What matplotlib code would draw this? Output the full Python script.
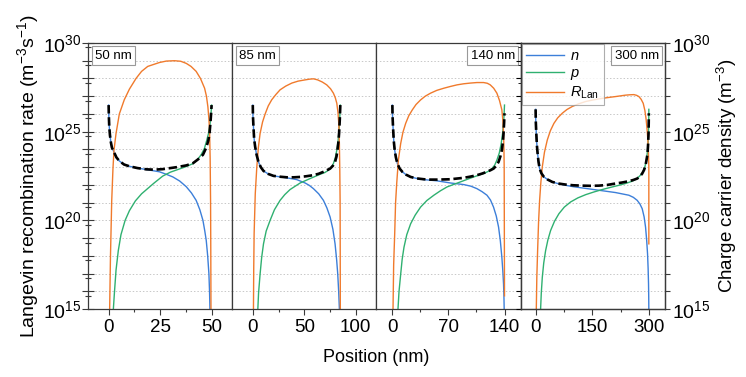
import matplotlib
import numpy as np

matplotlib.use('Agg')
import matplotlib.pyplot as plt
from matplotlib.ticker import FixedLocator, FuncFormatter, MultipleLocator, NullFormatter

plt.rcParams['font.family'] = ['Liberation Sans', 'DejaVu Sans']
plt.rcParams['mathtext.fontset'] = 'custom'
plt.rcParams['mathtext.rm'] = 'Liberation Sans'
plt.rcParams['mathtext.it'] = 'Liberation Sans:italic'

# device thicknesses and panel tags
thickness = [50, 85, 140, 300]
panel_tags = ['50 nm', '85 nm', '140 nm', '300 nm']

# values: position (nm), log10 of density / rate
# --- 50 nm ---
n50_x = [0, 0.1, 0.3, 0.65, 1.1, 1.6, 2.6, 3.8, 5.2, 7.5, 10.1, 14, 18.2, 24.7, 28, 31.2, 34.5, 37.7,
         40.2, 42.5, 44.3, 45.8, 46.7, 47.4, 48.1, 48.7, 49.0, 49.2]
n50_y = [26.5, 25.9, 25.3, 24.8, 24.4, 24.1, 23.85, 23.55, 23.35, 23.15, 23.05, 22.95, 22.87, 22.74, 22.6,
         22.45, 22.22, 21.9, 21.55, 21.13, 20.6, 20.0, 19.4, 18.87, 18.0, 16.98, 16.0, 15.0]
p50_x = [2.3, 2.8, 3.6, 4.7, 6.0, 8, 10.1, 13, 16, 18.2, 22, 26.3, 30, 34.4, 38, 40.9, 43, 44.9, 46.5,
         47.6, 48.5, 49.2, 49.7, 50]
p50_y = [15.0, 15.9, 17.2, 18.3, 19.2, 20.0, 20.55, 21.1, 21.5, 21.72, 22.1, 22.5, 22.72, 22.9, 23.05,
         23.2, 23.4, 23.7, 24.05, 24.5, 24.9, 25.4, 26.0, 26.5]
r50_x = [0.5, 0.9, 1.5, 2.1, 2.6, 3.6, 5.2, 7.6, 10.1, 13.3, 16, 19, 24.7, 28, 32, 35, 37.7, 40, 42.5,
         44.6, 46.6, 47.5, 48.2, 48.7, 49.0, 49.3, 49.5, 49.6, 49.7]
r50_y = [15.0, 18.0, 21.1, 22.9, 23.96, 24.9, 26.0, 26.8, 27.4, 28.0, 28.4, 28.68, 28.9, 28.98, 29.0, 28.97,
         28.85, 28.68, 28.4, 28.0, 27.45, 27.0, 26.4, 25.7, 25.1, 23.5, 21.1, 18.5, 15.0]
t50_x = [0, 0.1, 0.3, 0.65, 1.1, 1.6, 2.6, 3.8, 5.2, 7.5, 10.1, 14, 18.2, 22, 26.3, 30, 33, 37.7, 40.9,
         43.5, 45.8, 47.4, 48.4, 49.0, 49.5, 49.8, 50]
t50_y = [26.5, 25.9, 25.3, 24.8, 24.4, 24.1, 23.85, 23.55, 23.35, 23.15, 23.05, 22.95, 22.88, 22.86, 22.89,
         22.95, 23.0, 23.1, 23.22, 23.45, 23.7, 24.1, 24.5, 24.9, 25.6, 26.1, 26.5]

# --- 85 nm ---
n85_x = [0, 0.15, 0.65, 1.3, 2.3, 3.7, 5.5, 7.8, 10.4, 15, 20.1, 27, 33, 42.7, 50.8, 55, 58.9, 64, 68.6,
         72, 75.1, 77.8, 79.9, 81.4, 82.5, 83.4, 84.1]
n85_y = [26.5, 25.9, 25.28, 24.6, 24.15, 23.7, 23.3, 23.0, 22.79, 22.62, 22.51, 22.45, 22.40, 22.30, 22.11,
         21.97, 21.79, 21.5, 21.13, 20.7, 20.19, 19.5, 18.68, 17.8, 16.98, 16.0, 15.0]
p85_x = [4.9, 5.6, 7.1, 8.6, 10.4, 13, 16.8, 21, 26.5, 31, 36.2, 46, 55.7, 65.4, 70, 73.5, 76.5, 78.3,
         80.2, 81.6, 82.7, 83.5, 84.3, 84.8, 85]
p85_y = [15.0, 15.9, 16.98, 17.9, 18.68, 19.4, 20.0, 20.6, 21.13, 21.45, 21.74, 22.11, 22.36, 22.6, 22.7,
         22.83, 23.0, 23.21, 23.55, 23.96, 24.4, 24.91, 25.6, 26.23, 26.5]
r85_x = [0.65, 0.9, 1.3, 2.4, 3.9, 5.4, 7.1, 9.5, 12, 15, 18.4, 22.5, 26.5, 32, 37.9, 44, 50.8, 55, 58.9,
         63, 67.5, 71.8, 75.5, 78.3, 80.2, 81.6, 82.7, 83.5, 84.1, 84.5, 84.8, 84.9, 85.0]
r85_y = [15.0, 17.2, 19.25, 21.5, 23.0, 24.1, 24.9, 25.55, 26.0, 26.45, 26.8, 27.1, 27.36, 27.57, 27.74,
         27.85, 27.92, 27.96, 27.98, 27.92, 27.8, 27.64, 27.42, 27.17, 26.9, 26.6, 26.1, 25.47, 24.3, 22.8,
         21.1, 18.5, 15.0]
t85_x = [0, 0.15, 0.65, 1.3, 2.3, 3.7, 5.5, 7.8, 10.4, 15, 20.1, 27, 33, 40, 46, 52, 58.9, 64, 68.6, 72,
         75.1, 77.8, 79.9, 81.3, 82.2, 83.1, 83.8, 84.5, 85]
t85_y = [26.5, 25.9, 25.28, 24.6, 24.15, 23.7, 23.3, 23.0, 22.79, 22.62, 22.51, 22.46, 22.43, 22.43, 22.45,
         22.49, 22.55, 22.63, 22.74, 22.83, 22.92, 23.08, 23.3, 23.6, 23.96, 24.4, 24.91, 25.7, 26.5]

# --- 140 nm ---
n140_x = [0, 0.2, 0.8, 1.7, 2.9, 4.4, 6.2, 9, 12.4, 17, 22.8, 30, 39.4, 55.9, 72.5, 89.1, 98, 105.6, 112,
          118.1, 122.5, 126.3, 129.7, 132.6, 134.8, 136.7, 137.9, 138.8, 139.3, 139.6]
n140_y = [26.5, 25.9, 25.28, 24.5, 23.96, 23.55, 23.21, 22.93, 22.74, 22.58, 22.45, 22.37, 22.30, 22.23,
          22.11, 22.02, 21.93, 21.79, 21.62, 21.42, 21.15, 20.75, 20.25, 19.62, 18.85, 17.92, 17.15, 16.42,
          15.7, 15.0]
p140_x = [7.0, 8.3, 10.4, 12.2, 14.5, 18, 22.8, 28.5, 35.2, 43, 51.8, 60, 68.4, 84.9, 101.5, 113.9, 120,
          124.3, 127.8, 130.5, 133.5, 135.9, 137.6, 138.8, 139.5, 140]
p140_y = [15.0, 16.0, 16.98, 17.8, 18.49, 19.2, 19.81, 20.3, 20.75, 21.12, 21.42, 21.67, 21.89, 22.17, 22.45,
          22.64, 22.77, 22.92, 23.12, 23.40, 23.8, 24.34, 24.9, 25.47, 26.0, 26.5]
r140_x = [0.8, 1.6, 2.9, 4, 5.4, 7.5, 10.4, 13.2, 16.6, 20.5, 24.9, 29.5, 35.2, 41, 47.6, 55.5, 64.2, 72.5,
          80.8, 89, 97.3, 105.6, 113.9, 118.5, 122.2, 126.5, 130.5, 133.8, 136.7, 138, 138.8, 139.3, 139.6,
          140.0]
r140_y = [15.0, 17.5, 19.25, 21.0, 22.08, 23.4, 24.34, 24.97, 25.47, 25.9, 26.23, 26.53, 26.79, 27.0, 27.17,
          27.33, 27.45, 27.55, 27.64, 27.7, 27.74, 27.77, 27.77, 27.73, 27.64, 27.45, 27.17, 26.75, 26.23,
          25.6, 24.91, 24.0, 23.0, 15.75]
t140_x = [0, 0.2, 0.8, 1.7, 2.9, 4.4, 6.2, 9, 12.4, 17, 22.8, 30, 39.4, 47.6, 55.9, 64, 72.5, 80.8, 89.1,
          97.5, 105.6, 112, 118.1, 122.5, 126.3, 129.7, 132.6, 134.8, 136.7, 137.9, 138.8, 139.5, 140.0]
t140_y = [26.5, 25.9, 25.28, 24.5, 23.96, 23.55, 23.21, 22.93, 22.74, 22.58, 22.45, 22.37, 22.32, 22.30,
          22.30, 22.31, 22.32, 22.36, 22.40, 22.47, 22.55, 22.64, 22.74, 22.83, 22.92, 23.08, 23.30, 23.6,
          23.96, 24.4, 24.91, 25.5, 26.04]

# --- 300 nm ---
n300_x = [0, 0.4, 1.8, 3.3, 5.3, 7.7, 10.6, 15.5, 22.1, 32, 44.1, 60, 79.4, 100, 123.6, 167.7, 211.8,
          247.1, 259, 269.2, 276.5, 282.4, 287.5, 291.3, 294.2, 296.6, 298.1, 299.2, 299.7, 300.0]
n300_y = [26.26, 25.6, 24.91, 24.25, 23.77, 23.3, 22.92, 22.65, 22.45, 22.3, 22.17, 22.07, 21.98, 21.9,
          21.83, 21.70, 21.57, 21.42, 21.3, 21.13, 20.92, 20.66, 20.2, 19.62, 18.9, 18.11, 17.3, 16.42,
          15.7, 15.0]
p300_x = [13.2, 15, 17.7, 21.5, 26.5, 32.5, 39.7, 50, 61.8, 76, 92.7, 112, 132.4, 154, 176.5, 198, 220.7,
          238, 256, 268, 278, 284.5, 289.5, 293, 295.7, 297.8, 299.2, 299.8, 300.0]
p300_y = [15.0, 15.9, 16.79, 17.6, 18.3, 18.9, 19.43, 19.95, 20.38, 20.75, 21.04, 21.27, 21.45, 21.6, 21.74,
          21.86, 21.98, 22.08, 22.21, 22.35, 22.55, 22.75, 23.02, 23.35, 23.77, 24.3, 24.91, 25.6, 26.26]
r300_x = [1.8, 3.2, 5.3, 7.8, 10.6, 13.9, 17.7, 23.5, 30.9, 39, 48.5, 58.5, 70.6, 83, 97.1, 114, 132.4,
          150, 167.7, 190, 211.8, 238.3, 250, 260.4, 267.5, 273.6, 279.5, 285.1, 289.5, 293.0, 295.5,
          297.4, 299, 300.0, 300.0]
r300_y = [15.0, 16.8, 18.3, 19.9, 21.13, 22.15, 23.02, 23.85, 24.53, 25.05, 25.47, 25.78, 26.04, 26.25,
          26.42, 26.57, 26.70, 26.78, 26.85, 26.92, 26.98, 27.06, 27.08, 27.09, 27.05, 26.98, 26.83, 26.60,
          26.2, 25.66, 25.1, 24.53, 23.8, 23.02, 18.68]
t300_x = [0, 0.4, 1.8, 3.3, 5.3, 7.7, 10.6, 15.5, 22.1, 32, 44.1, 60, 79.4, 100, 123.6, 145, 167.7, 190,
          211.8, 230, 247.1, 259, 269.2, 276.5, 282.4, 287.5, 291.3, 294.2, 296.6, 298.1, 299.2, 299.7, 300.0]
t300_y = [26.26, 25.6, 24.91, 24.25, 23.77, 23.3, 22.92, 22.65, 22.45, 22.3, 22.17, 22.08, 22.02, 21.98,
          21.96, 21.95, 21.96, 22.0, 22.08, 22.14, 22.21, 22.28, 22.36, 22.48, 22.64, 22.85, 23.11, 23.45,
          23.77, 24.3, 24.91, 25.5, 26.04]

n_data = [(n50_x, n50_y), (n85_x, n85_y), (n140_x, n140_y), (n300_x, n300_y)]
p_data = [(p50_x, p50_y), (p85_x, p85_y), (p140_x, p140_y), (p300_x, p300_y)]
r_data = [(r50_x, r50_y), (r85_x, r85_y), (r140_x, r140_y), (r300_x, r300_y)]
t_data = [(t50_x, t50_y), (t85_x, t85_y), (t140_x, t140_y), (t300_x, t300_y)]

x_limits = [(-10, 60), (-20, 120), (-20, 160), (-40, 342)]
x_major = [[0, 25, 50], [0, 50, 100], [0, 70, 140], [0, 150, 300]]
x_minor = [12.5, 25, 35, 75]
tag_right = [False, False, True, True]

c_n = '#3c7fd9'
c_p = '#2fb070'
c_r = '#f07a2c'
frame = '#3a3a3a'


def decade_label(v, pos):
    e = int(round(np.log10(v)))
    return f'$\\mathdefault{{10^{{{e}}}}}$' if e % 5 == 0 else ''


fig, axes = plt.subplots(1, 4, figsize=(7.46, 3.77), dpi=100, sharey=True)
fig.subplots_adjust(left=0.118, right=0.891, top=0.886, bottom=0.180, wspace=0)

decades = [10.0 ** k for k in range(15, 31)]
offset_ticks = [10.0 ** (k - 0.25) for k in range(16, 31)]
for i, ax in enumerate(axes):
    ax.set_yscale('log')
    ax.set_ylim(1e15, 1e30)
    ax.set_xlim(*x_limits[i])
    ax.yaxis.set_major_locator(FixedLocator(decades))
    ax.yaxis.set_minor_locator(FixedLocator(offset_ticks))
    ax.yaxis.set_major_formatter(FuncFormatter(decade_label))
    ax.yaxis.set_minor_formatter(NullFormatter())
    ax.grid(True, axis='y', which='major', linestyle=(0, (1.5, 2)), color='#c8c8c8', linewidth=0.7)
    ax.set_axisbelow(True)

    x, y = n_data[i]
    ax.plot(x, 10 ** np.array(y), color=c_n, lw=1.0, label='$n$')
    x, y = p_data[i]
    ax.plot(x, 10 ** np.array(y), color=c_p, lw=1.0, label='$p$')
    x, y = r_data[i]
    ax.plot(x, 10 ** np.array(y), color=c_r, lw=1.0, label='$R_{\\mathrm{Lan}}$')
    x, y = t_data[i]
    ax.plot(x, 10 ** np.array(y), color='black', lw=1.9, dashes=(3.2, 1.4))

    ax.xaxis.set_major_locator(FixedLocator(x_major[i]))
    ax.xaxis.set_minor_locator(MultipleLocator(x_minor[i]))
    ax.xaxis.set_minor_formatter(NullFormatter())
    ax.tick_params(axis='x', which='major', direction='out', length=4, width=0.8,
                   labelsize=13.5, color=frame, pad=3)
    ax.tick_params(axis='x', which='minor', direction='out', length=2.5, width=0.8, color=frame)
    for s in ax.spines.values():
        s.set_color(frame)
        s.set_linewidth(0.9)

    if tag_right[i]:
        ax.text(0.96, 0.975, panel_tags[i], transform=ax.transAxes, ha='right', va='top',
                fontsize=9.5, bbox=dict(boxstyle='square,pad=0.25', fc='white', ec='#999999', lw=0.8))
    else:
        ax.text(0.05, 0.975, panel_tags[i], transform=ax.transAxes, ha='left', va='top',
                fontsize=9.5, bbox=dict(boxstyle='square,pad=0.25', fc='white', ec='#999999', lw=0.8))

    if i == 0:
        ax.tick_params(axis='y', which='major', direction='inout', length=8, width=0.8,
                       labelsize=14, color=frame, pad=1)
        ax.tick_params(axis='y', which='minor', direction='inout', length=5, width=0.8, color=frame)
    else:
        ax.tick_params(axis='y', which='both', left=False, labelleft=False)

axes[0].set_ylabel('Langevin recombination rate (m$^{-3}$s$^{-1}$)', fontsize=14, labelpad=1)

# right-hand axis for carrier density
axr = axes[3].twinx()
axr.set_yscale('log')
axr.set_ylim(1e15, 1e30)
axr.yaxis.set_major_locator(FixedLocator(decades))
axr.yaxis.set_minor_locator(FixedLocator([]))
axr.yaxis.set_major_formatter(FuncFormatter(decade_label))
axr.tick_params(axis='y', which='major', direction='out', length=3.5, width=0.8,
                labelsize=14, color=frame, pad=2)
for s in axr.spines.values():
    s.set_color(frame)
    s.set_linewidth(0.9)
axr.set_ylabel('Charge carrier density (m$^{-3}$)', fontsize=13.5, labelpad=3)

leg = axes[3].legend(loc='upper left', bbox_to_anchor=(0.0, 1.0), fontsize=10.5, frameon=True,
                     fancybox=False, edgecolor='#999999', handlelength=2.6, handletextpad=0.4,
                     borderpad=0.3, labelspacing=0.2, borderaxespad=0.1)
leg.get_frame().set_linewidth(0.8)

fig.text(0.504, 0.03, 'Position (nm)', ha='center', va='bottom', fontsize=13)

fig.savefig('out.png', dpi=100)
